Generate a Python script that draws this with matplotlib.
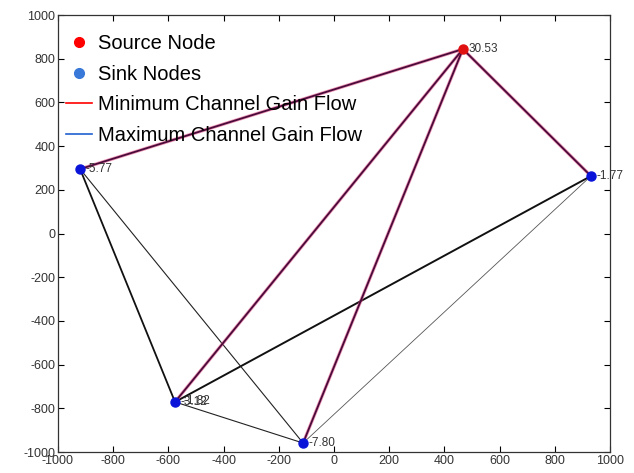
import numpy as np
import matplotlib.pyplot as plt
from matplotlib.lines import Line2D

plt.rcParams['font.family'] = ['Liberation Sans', 'DejaVu Sans']
plt.rcParams['axes.unicode_minus'] = False

# node data
node_names = ['S', 'A', 'B', 'C', 'D']
node_x = [467, -920, 931, -576, -112]
node_y = [844, 295, 263, -771, -959]
node_labels = ['30.53', '-5.77', '-1.77', '-3.12', '-7.80']
extra_label = '-1.82'  # second label sitting on node C

# flows from source (min and max gain flows coincide)
flow_edges = [('S', 'A'), ('S', 'B'), ('S', 'C'), ('S', 'D')]
# other links: (from, to, width, colour)
links = [('A', 'C', 1.3, '#111111'), ('C', 'B', 1.4, '#111111'),
         ('A', 'D', 0.8, '#222222'), ('C', 'D', 0.8, '#222222'),
         ('D', 'B', 0.6, '#555555')]

pos = {n: (x, y) for n, x, y in zip(node_names, node_x, node_y)}

fig = plt.figure(figsize=(6.34, 4.73), dpi=100)
ax = fig.add_axes([58 / 634, 1 - 452 / 473, 552 / 634, 437 / 473])

for a, b, lw, c in links:
    ax.plot([pos[a][0], pos[b][0]], [pos[a][1], pos[b][1]], color=c, lw=lw, zorder=2)

for a, b in flow_edges:
    xs = [pos[a][0], pos[b][0]]
    ys = [pos[a][1], pos[b][1]]
    ax.plot(xs, ys, color='#e0407a', lw=2.4, alpha=0.55, zorder=3)
    ax.plot(xs, ys, color='#4a0a3a', lw=1.3, zorder=4)

ax.plot(node_x[1:], node_y[1:], 'o', color='#0a14d8', ms=6.5, zorder=5)
ax.plot(node_x[0], node_y[0], 'o', color='#e01010', ms=6.5, zorder=5)

for x, y, t in zip(node_x, node_y, node_labels):
    ax.text(x + 20, y, t, fontsize=8.5, color='#333333', va='center', ha='left', zorder=6)
ax.text(pos['C'][0] + 30, pos['C'][1] + 5, extra_label, fontsize=8.5, color='#333333',
        va='center', ha='left', zorder=6)

ax.set_xlim(-1000, 1000)
ax.set_ylim(-1000, 1000)
ax.set_xticks(np.arange(-1000, 1001, 200))
ax.set_yticks(np.arange(-1000, 1001, 200))
ax.tick_params(direction='in', top=True, right=True, labelsize=9, labelcolor='#333333',
               length=4, width=0.8, pad=2)
for s in ax.spines.values():
    s.set_linewidth(0.9)
    s.set_color('#333333')

handles = [
    Line2D([], [], ls='none', marker='o', color='#ff0000', ms=7),
    Line2D([], [], ls='none', marker='o', color='#3878d8', ms=7),
    Line2D([], [], color='#ff0000', lw=1.2),
    Line2D([], [], color='#2060d0', lw=1.2),
]
labels = ['Source Node', 'Sink Nodes', 'Minimum Channel Gain Flow', 'Maximum Channel Gain Flow']
ax.legend(handles, labels, loc='upper left', frameon=False, fontsize=14.5,
          handlelength=1.3, handletextpad=0.3, labelspacing=0.58,
          borderaxespad=0.2, bbox_to_anchor=(-0.007, 0.984))

fig.savefig('out.png', dpi=100)
